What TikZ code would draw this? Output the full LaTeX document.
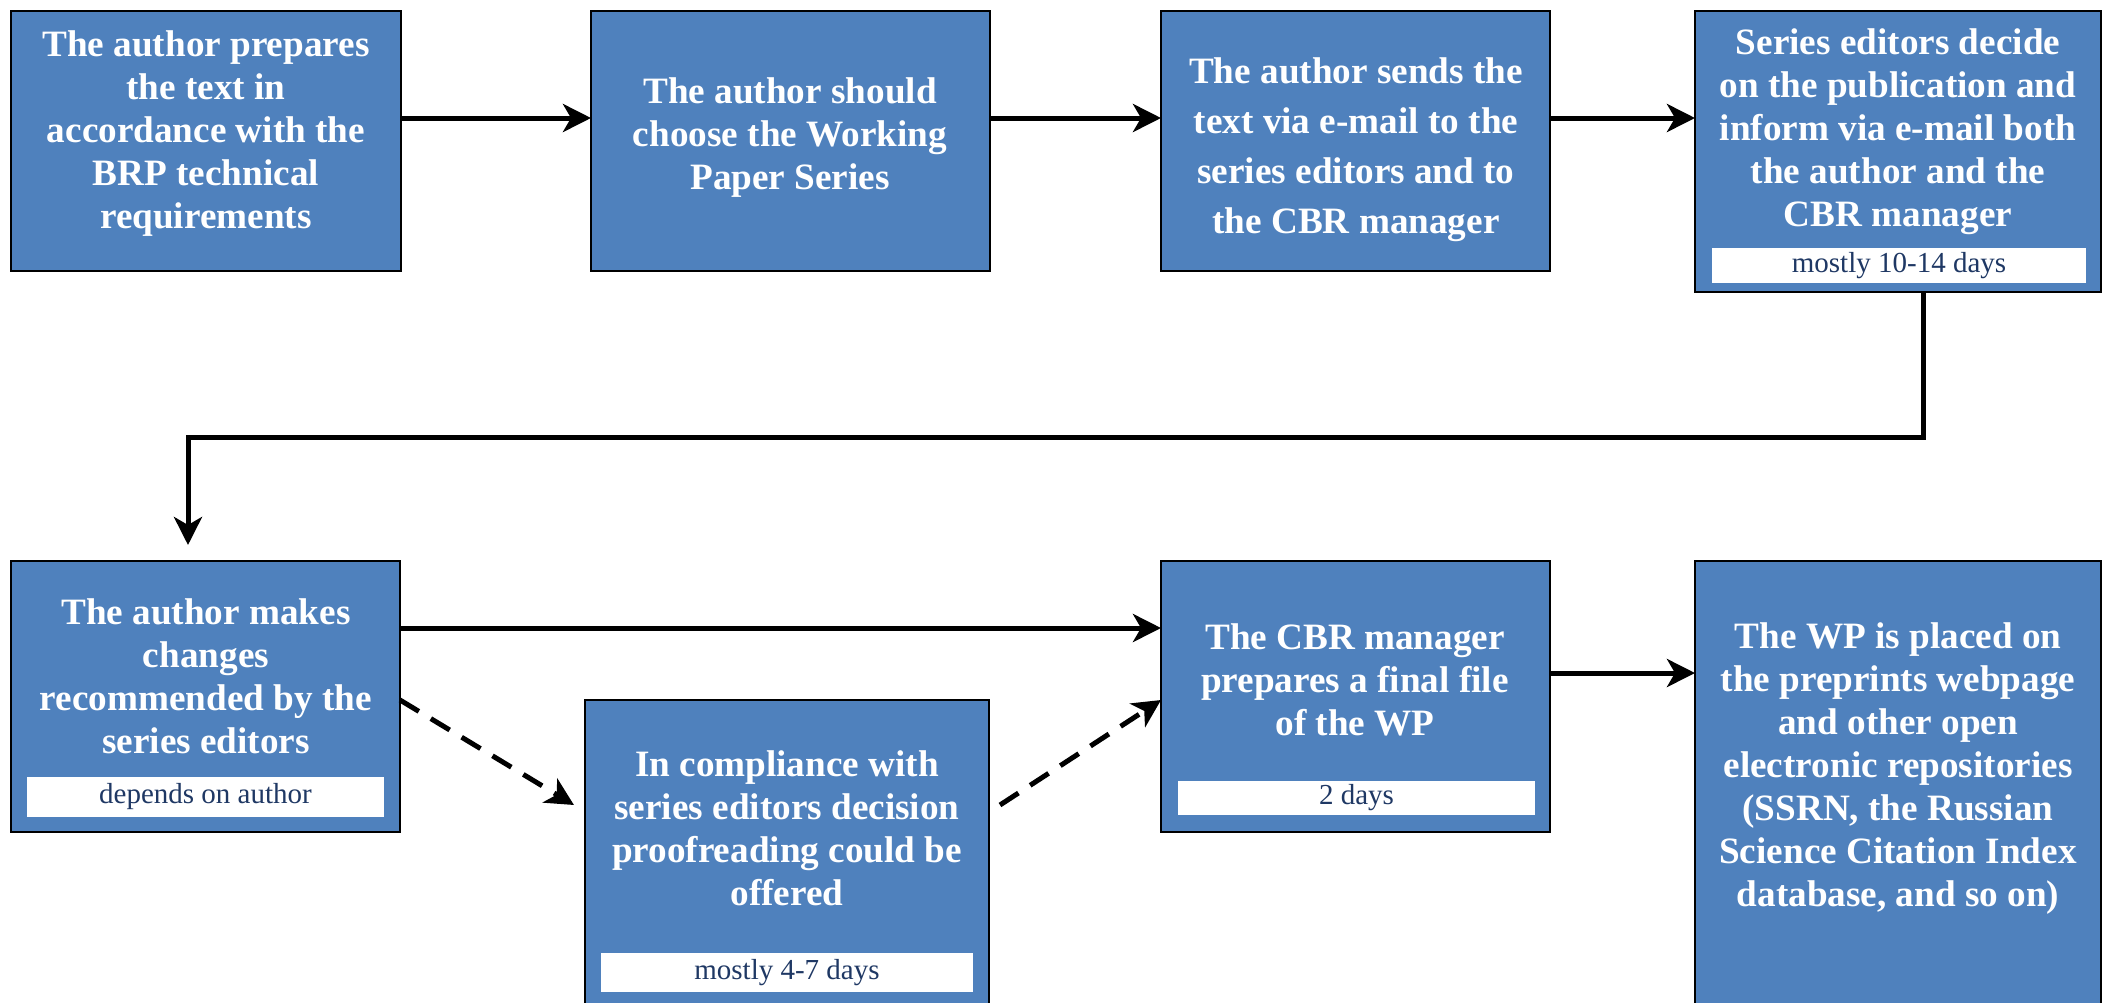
\documentclass[tikz,border=0pt]{standalone}
\usepackage{fontspec}
\setmainfont{Liberation Serif}
\usetikzlibrary{arrows.meta}
\definecolor{boxblue}{HTML}{4F81BD}
\definecolor{navy}{HTML}{1F3864}
\tikzset{
  box/.style={draw=black, line width=1.1pt, fill=boxblue, inner sep=0pt, outer sep=0pt},
  btext/.style={text=white, font=\bfseries\fontsize{18.6}{21.5}\selectfont, align=center, inner sep=0pt},
  btextwide/.style={text=white, font=\bfseries\fontsize{18.6}{25}\selectfont, align=center, inner sep=0pt},
  lab/.style={fill=white, text=navy, font=\fontsize{14.5}{17}\selectfont, inner sep=0pt, outer sep=0pt},
  arr/.style={line width=2.5pt, -{Stealth[length=14pt,width=14pt,inset=4pt]}},
  darr/.style={arr, dash pattern=on 11pt off 7pt}
}
\begin{document}
\begin{tikzpicture}[x=0.5pt,y=-0.5pt]
\useasboundingbox (0,0) rectangle (2103,1002);
\clip (0,0) rectangle (2103,1002);
% boxes
\node[box, minimum width=195pt, minimum height=130pt] (b1) at (206,141) {};
\node[box, minimum width=199.5pt, minimum height=130pt] (b2) at (790.5,141) {};
\node[box, minimum width=194.5pt, minimum height=130pt] (b3) at (1355.5,141) {};
\node[box, minimum width=203pt, minimum height=140.5pt] (b4) at (1898,151.5) {};
\node[box, minimum width=194.5pt, minimum height=135.5pt] (b5) at (205.5,696.5) {};
\node[box, minimum width=202pt, minimum height=155pt] (b6) at (787,855) {};
\node[box, minimum width=194.5pt, minimum height=135.5pt] (b7) at (1355.5,696.5) {};
\node[box, minimum width=203pt, minimum height=224.5pt] (b8) at (1898,785.5) {};
% texts
\node[btext] (t1) at (206,134) {The author prepares\\the text in\\accordance with the\\BRP technical\\requirements};
\node[btext] (t2) at (790,138) {The author should\\choose the Working\\Paper Series};
\node[btextwide] (t3) at (1356,150) {The author sends the\\text via e-mail to the\\series editors and to\\the CBR manager};
\node[btext] (t4) at (1898,132) {Series editors decide\\on the publication and\\inform via e-mail both\\the author and the\\CBR manager};
\node[btext] (t5) at (206,676) {The author makes\\changes\\recommended by the\\series editors};
\node[btext] (t6) at (787,828) {In compliance with\\series editors decision\\proofreading could be\\offered};
\node[btext] (t7) at (1355,680) {The CBR manager\\prepares a final file\\of the WP};
\node[btext] (t8) at (1898,769) {The WP is placed on\\the preprints webpage\\and other open\\electronic repositories\\(SSRN, the Russian\\Science Citation Index\\database, and so on)};
% labels
\node[lab, minimum width=187pt, minimum height=17.5pt] (l4) at (1899,265.5) {mostly 10-14 days};
\node[lab, minimum width=178.5pt, minimum height=20pt] (l5) at (205.5,797) {depends on author};
\node[lab, minimum width=186pt, minimum height=19.5pt] (l6) at (787,972.5) {mostly 4-7 days};
\node[lab, minimum width=178.5pt, minimum height=17pt] (l7) at (1356.5,798) {2 days};
% connectors
\draw[arr] ([yshift=11.5pt]b1.east) -- ([yshift=11.5pt]b2.west);
\draw[arr] ([yshift=11.5pt]b2.east) -- ([yshift=11.5pt]b3.west);
\draw[arr] ([yshift=11.5pt]b3.east) -- ([yshift=16.75pt]b4.west);
\coordinate (turn) at (1000,437);
\draw[arr, shorten >=8pt] ([xshift=12.5pt]b4.south) |- (turn) -| ([xshift=-8.75pt]b5.north);
\draw[arr] ([yshift=34.25pt]b5.east) -- ([yshift=34.25pt]b7.west);
\draw[arr] ([yshift=11.75pt]b7.east) -- ([yshift=56.25pt]b8.west);
\draw[darr] ([yshift=-1.75pt]b5.east) -- ([xshift=-5.5pt,yshift=25pt]b6.west);
\draw[darr] ([xshift=5.5pt,yshift=25pt]b6.east) -- ([yshift=-1.75pt]b7.west);
\end{tikzpicture}
\end{document}
